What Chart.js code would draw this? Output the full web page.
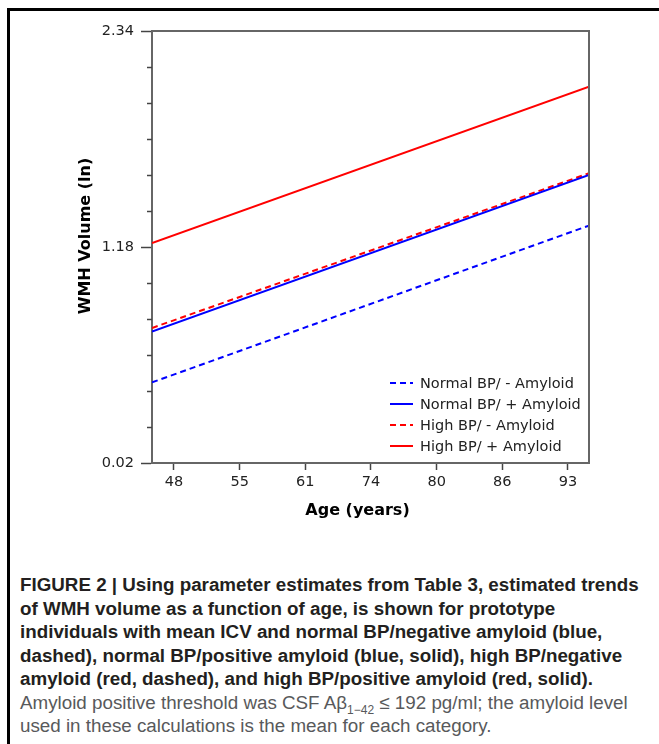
<!DOCTYPE html>
<html>
<head>
<meta charset="utf-8">
<script src="https://cdn.jsdelivr.net/npm/chart.js@4.4.1/dist/chart.umd.min.js"></script>
<style>
  html, body { margin: 0; padding: 0; background: #fff; }
  body { width: 659px; height: 744px; overflow: hidden; position: relative; }
  .frame { position: absolute; left: 7px; top: 8px; right: 0; bottom: 0; border-left: 3px solid #000; border-top: 3px solid #000; }
  .chart-box { position: absolute; left: 0; top: 0; width: 659px; height: 540px; }
  .caption { position: absolute; left: 20px; top: 573px; font-family: "Liberation Sans", Arial, sans-serif; font-size: 18.8px; line-height: 23.5px; }
  .caption .b { font-weight: bold; color: #231f20; white-space: nowrap; }
  .caption .r { color: #58595b; white-space: nowrap; }
  .caption sub { font-size: 12px; line-height: 0; }
</style>
</head>
<body>
<div class="frame"></div>
<div class="chart-box"><canvas id="wmhChart" width="659" height="540"></canvas></div>
<div class="caption">
  <div class="b">FIGURE 2 | Using parameter estimates from Table 3, estimated trends</div>
  <div class="b">of WMH volume as a function of age, is shown for prototype</div>
  <div class="b">individuals with mean ICV and normal BP/negative amyloid (blue,</div>
  <div class="b">dashed), normal BP/positive amyloid (blue, solid), high BP/negative</div>
  <div class="b">amyloid (red, dashed), and high BP/positive amyloid (red, solid).</div>
  <div class="r">Amyloid positive threshold was CSF Aβ<sub>1−42</sub> ≤ 192 pg/ml; the amyloid level</div>
  <div class="r">used in these calculations is the mean for each category.</div>
</div>
<script>
  // age tick labels (evenly spaced on the axis)
  const ageLabels = ['48', '55', '61', '74', '80', '86', '93'];
  // x extent of the axis, in tick-index units
  const xRange = [-0.335, 6.32];
  // y axis
  const yRange = [0.02, 2.34];
  const yTickLabels = ['0.02', '1.18', '2.34'];
  const yMinorPerGap = 6;

  const seriesNames = ['Normal BP/ - Amyloid', 'Normal BP/ + Amyloid', 'High BP/ - Amyloid', 'High BP/ + Amyloid'];
  // WMH volume at the left and right ends of the axis
  const startValues = [0.453, 0.726, 0.745, 1.201];
  const endValues = [1.295, 1.567, 1.576, 2.041];

  const LINE_STYLE = [
    { color: '#0000ff', dash: [6, 4] },
    { color: '#0000ff', dash: [] },
    { color: '#ff0000', dash: [6, 4] },
    { color: '#ff0000', dash: [] }
  ];
  const AXIS_COLOR = '#666';
  const TEXT_COLOR = '#222';
  const TICK_FONT = { family: 'DejaVu Sans', size: 14.5 };

  const datasets = seriesNames.map((name, i) => ({
    label: name,
    data: [{ x: xRange[0], y: startValues[i] }, { x: xRange[1], y: endValues[i] }],
    borderColor: LINE_STYLE[i].color,
    borderDash: LINE_STYLE[i].dash,
    borderWidth: 2,
    pointRadius: 0,
    fill: false,
    tension: 0
  }));

  const yStep = (yRange[1] - yRange[0]) / (yMinorPerGap * (yTickLabels.length - 1));

  const decorPlugin = {
    id: 'decor',
    afterDraw(chart) {
      const { ctx, chartArea: a, scales } = chart;
      ctx.save();
      // top + right of the box
      ctx.strokeStyle = AXIS_COLOR; ctx.lineWidth = 2;
      ctx.beginPath();
      ctx.moveTo(a.left, a.top); ctx.lineTo(a.right, a.top); ctx.lineTo(a.right, a.bottom);
      ctx.stroke();
      // minor y ticks
      ctx.strokeStyle = '#444'; ctx.lineWidth = 1.5;
      scales.y.ticks.forEach((t, i) => {
        if (i % yMinorPerGap === 0) return;
        const py = Math.round(scales.y.getPixelForValue(t.value)) + 0.5;
        ctx.beginPath(); ctx.moveTo(a.left - 5, py); ctx.lineTo(a.left, py); ctx.stroke();
      });
      // legend
      const lx = a.right - 199, ly = a.bottom - 80;
      ctx.font = '14.5px "DejaVu Sans"';
      ctx.textBaseline = 'middle'; ctx.textAlign = 'left';
      chart.data.datasets.forEach((ds, i) => {
        const y = ly + i * 21;
        ctx.strokeStyle = ds.borderColor; ctx.lineWidth = 2;
        ctx.setLineDash(ds.borderDash);
        ctx.beginPath(); ctx.moveTo(lx, y); ctx.lineTo(lx + 23, y); ctx.stroke();
        ctx.setLineDash([]);
        ctx.fillStyle = TEXT_COLOR;
        ctx.fillText(ds.label, lx + 30, y + 1);
      });
      // axis titles
      ctx.fillStyle = '#000';
      ctx.font = 'bold 16px "DejaVu Sans"';
      ctx.textAlign = 'center';
      ctx.fillText('Age (years)', (a.left + a.right) / 2 - 13, a.bottom + 48);
      ctx.translate(86, (a.top + a.bottom) / 2 - 11);
      ctx.rotate(-Math.PI / 2);
      ctx.fillText('WMH Volume (ln)', 0, 0);
      ctx.restore();
    }
  };

  new Chart(document.getElementById('wmhChart'), {
    type: 'line',
    data: { datasets },
    options: {
      responsive: false,
      animation: false,
      layout: { padding: { left: 0, top: 31, right: 70, bottom: 0 } },
      plugins: { legend: { display: false }, tooltip: { enabled: false } },
      scales: {
        x: {
          type: 'linear',
          min: xRange[0], max: xRange[1],
          afterBuildTicks: (s) => { s.ticks = ageLabels.map((_, i) => ({ value: i })); },
          afterFit: (s) => { s.height = 77; },
          ticks: {
            callback: (v) => ageLabels[v],
            font: TICK_FONT,
            color: TEXT_COLOR, padding: 4, maxRotation: 0, autoSkip: false
          },
          grid: { drawOnChartArea: false, tickLength: 7, tickColor: '#444', tickWidth: 1.5 },
          border: { color: AXIS_COLOR, width: 2 }
        },
        y: {
          type: 'linear',
          min: yRange[0], max: yRange[1],
          afterBuildTicks: (s) => {
            const n = yMinorPerGap * (yTickLabels.length - 1);
            s.ticks = Array.from({ length: n + 1 }, (_, i) => ({ value: yRange[0] + i * yStep }));
          },
          afterFit: (s) => { s.width = 152; },
          ticks: {
            callback: (v, i) => (i % yMinorPerGap === 0 ? yTickLabels[i / yMinorPerGap] : ''),
            font: TICK_FONT,
            color: TEXT_COLOR, padding: 7, autoSkip: false
          },
          grid: {
            drawOnChartArea: false, tickLength: 11, tickWidth: 1.5,
            tickColor: (c) => (c.index % yMinorPerGap === 0 ? '#444' : 'rgba(0,0,0,0)')
          },
          border: { color: AXIS_COLOR, width: 2 }
        }
      }
    },
    plugins: [decorPlugin]
  });
</script>
</body>
</html>
